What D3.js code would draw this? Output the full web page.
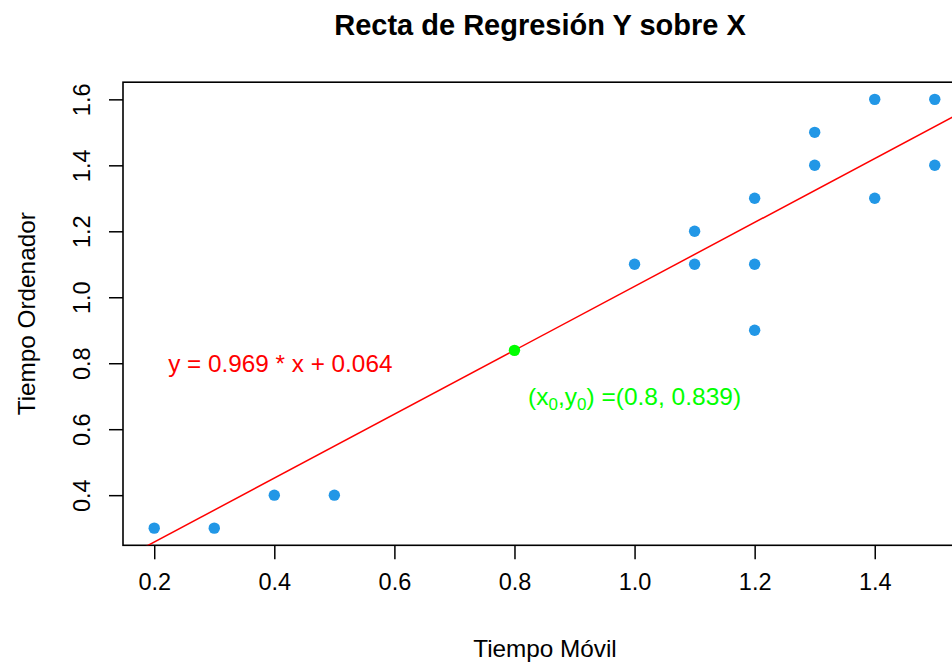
<!DOCTYPE html>
<html><head><meta charset="utf-8">
<script src="https://cdn.jsdelivr.net/npm/d3@7"></script>
<style>body{margin:0;background:#fff}svg{display:block}text{font-family:"Liberation Sans",Arial,sans-serif}</style>
</head><body>
<svg id="c" width="952" height="663"></svg>
<script>
const xs = [0.2,0.3,0.4,0.5,1.0,1.1,1.1,1.2,1.2,1.2,1.3,1.3,1.4,1.4,1.5,1.5];
const ys = [0.3,0.3,0.4,0.4,1.1,1.1,1.2,1.3,1.1,0.9,1.5,1.4,1.6,1.3,1.6,1.4];
const slope = 0.969, intercept = 0.064;
const x0 = 0.8, y0 = 0.839;
const xTicks = [0.2,0.4,0.6,0.8,1.0,1.2,1.4];
const yTicks = [0.4,0.6,0.8,1.0,1.2,1.4,1.6];
const title = "Recta de Regresión Y sobre X";
const xLabel = "Tiempo Móvil", yLabel = "Tiempo Ordenador";
const eqLabel = "y = 0.969 * x + 0.064";

const L = 123, R = 966, T = 82.2, B = 545.3;
const svg = d3.select("#c");
const x = d3.scaleLinear().domain([0.148, 1.552]).range([L, R]);
const y = d3.scaleLinear().domain([0.248, 1.652]).range([B, T]);
const fmt = d3.format(".1f");
const fs = 23.5;

svg.append("clipPath").attr("id","pc").append("rect").attr("x",L).attr("y",T).attr("width",R-L).attr("height",B-T);

const gx = svg.append("g").attr("transform",`translate(0,${B})`)
  .call(d3.axisBottom(x).tickValues(xTicks).tickFormat(fmt).tickSize(14).tickPadding(14));
gx.select(".domain").remove();
gx.selectAll("line").attr("stroke","#000").attr("stroke-width",1.5);
gx.selectAll("text").attr("font-size",fs).attr("fill","#000").attr("font-family","Liberation Sans, Arial, sans-serif");

const gy = svg.append("g").attr("transform",`translate(${L},0)`)
  .call(d3.axisLeft(y).tickValues(yTicks).tickFormat(fmt).tickSize(14));
gy.select(".domain").remove();
gy.selectAll("line").attr("stroke","#000").attr("stroke-width",1.5);
gy.selectAll("text").attr("font-size",fs).attr("fill","#000").attr("font-family","Liberation Sans, Arial, sans-serif")
  .attr("x",null).attr("dy",null).attr("text-anchor","middle")
  .attr("transform","translate(-33,0) rotate(-90)");

svg.append("rect").attr("x",L).attr("y",T).attr("width",R-L).attr("height",B-T)
  .attr("fill","none").attr("stroke","#000").attr("stroke-width",1.6);

const xd = x.domain();
svg.append("line").attr("clip-path","url(#pc)")
  .attr("x1",x(xd[0])).attr("y1",y(slope*xd[0]+intercept))
  .attr("x2",x(xd[1])).attr("y2",y(slope*xd[1]+intercept))
  .attr("stroke","#ff0000").attr("stroke-width",1.5);

svg.append("g").selectAll("circle").data(xs.map((d,i)=>[d,ys[i]])).join("circle")
  .attr("cx",d=>x(d[0])).attr("cy",d=>y(d[1])).attr("r",5.7).attr("fill","#2297E6");

svg.append("circle").attr("cx",x(x0)).attr("cy",y(y0)).attr("r",5.7).attr("fill","#00ff00");

svg.append("text").attr("x",x(0.41)).attr("y",y(0.8)).attr("dy","0.35em")
  .attr("text-anchor","middle").attr("font-size",24.3).attr("fill","#ff0000").text(eqLabel);

const pt = svg.append("text").attr("x",x(1.0)).attr("y",y(0.7)).attr("dy","0.35em")
  .attr("text-anchor","middle").attr("font-size",24.5).attr("fill","#00ff00");
pt.append("tspan").text("(x");
pt.append("tspan").attr("font-size",17).attr("dy",5).text("0");
pt.append("tspan").attr("dy",-5).text(",y");
pt.append("tspan").attr("font-size",17).attr("dy",5).text("0");
pt.append("tspan").attr("dy",-5).text(") =(" + x0 + ", " + y0 + ")");

svg.append("text").attr("x",540).attr("y",35).attr("text-anchor","middle")
  .attr("font-size",29).attr("font-weight","bold").text(title);
svg.append("text").attr("x",545).attr("y",657).attr("text-anchor","middle")
  .attr("font-size",24.3).text(xLabel);
svg.append("text").attr("transform",`translate(35,${(T+B)/2}) rotate(-90)`).attr("text-anchor","middle")
  .attr("font-size",24.3).text(yLabel);
</script>
</body></html>
